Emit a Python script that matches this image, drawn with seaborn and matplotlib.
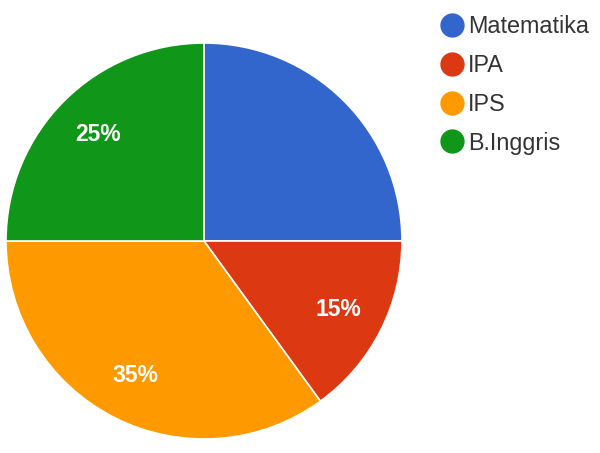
import matplotlib
matplotlib.use("Agg")
import matplotlib.pyplot as plt
from matplotlib.lines import Line2D
import numpy as np
import seaborn as sns

categories = ["Matematika", "IPA", "IPS", "B.Inggris"]
values = [25, 15, 35, 25]
pct_labels = ["", "15%", "35%", "25%"]
colors_hex = ["#3366CC", "#DC3912", "#FF9900", "#109618"]

sns.set_theme(style="white")
plt.rcParams['font.family'] = ['Liberation Sans', 'DejaVu Sans']
palette = sns.color_palette(colors_hex)

fig = plt.figure(figsize=(6.0, 4.53), dpi=100)
ax = fig.add_axes([6/600, (453-439)/453, 396/600, 396/453])

wedges, _ = ax.pie(values, colors=palette, startangle=90, counterclock=False,
                   radius=1.0, wedgeprops=dict(edgecolor="white", linewidth=1.2))
theta = 90.0
total = sum(values)
for v, lab in zip(values, pct_labels):
    span = 360.0 * v / total
    mid = np.deg2rad(theta - span / 2)
    theta -= span
    if lab:
        ax.text(0.76 * np.cos(mid), 0.76 * np.sin(mid), lab, ha="center", va="center",
                color="white", fontsize=16.5, fontweight="bold")
ax.set_xlim(-1, 1)
ax.set_ylim(-1, 1)
ax.set_aspect("equal")
ax.axis("off")

handles = [Line2D([0], [0], marker="o", linestyle="", markersize=16.5,
                  markerfacecolor=c, markeredgecolor=c) for c in palette]
fig.legend(handles, categories, loc="upper left", bbox_to_anchor=(440/600, 1 - 15/453),
           frameon=False, fontsize=16.8, labelcolor="#333333", handletextpad=0.2,
           labelspacing=0.68, handlelength=1.0, borderaxespad=0, borderpad=0)

fig.savefig("out.png", dpi=100)
